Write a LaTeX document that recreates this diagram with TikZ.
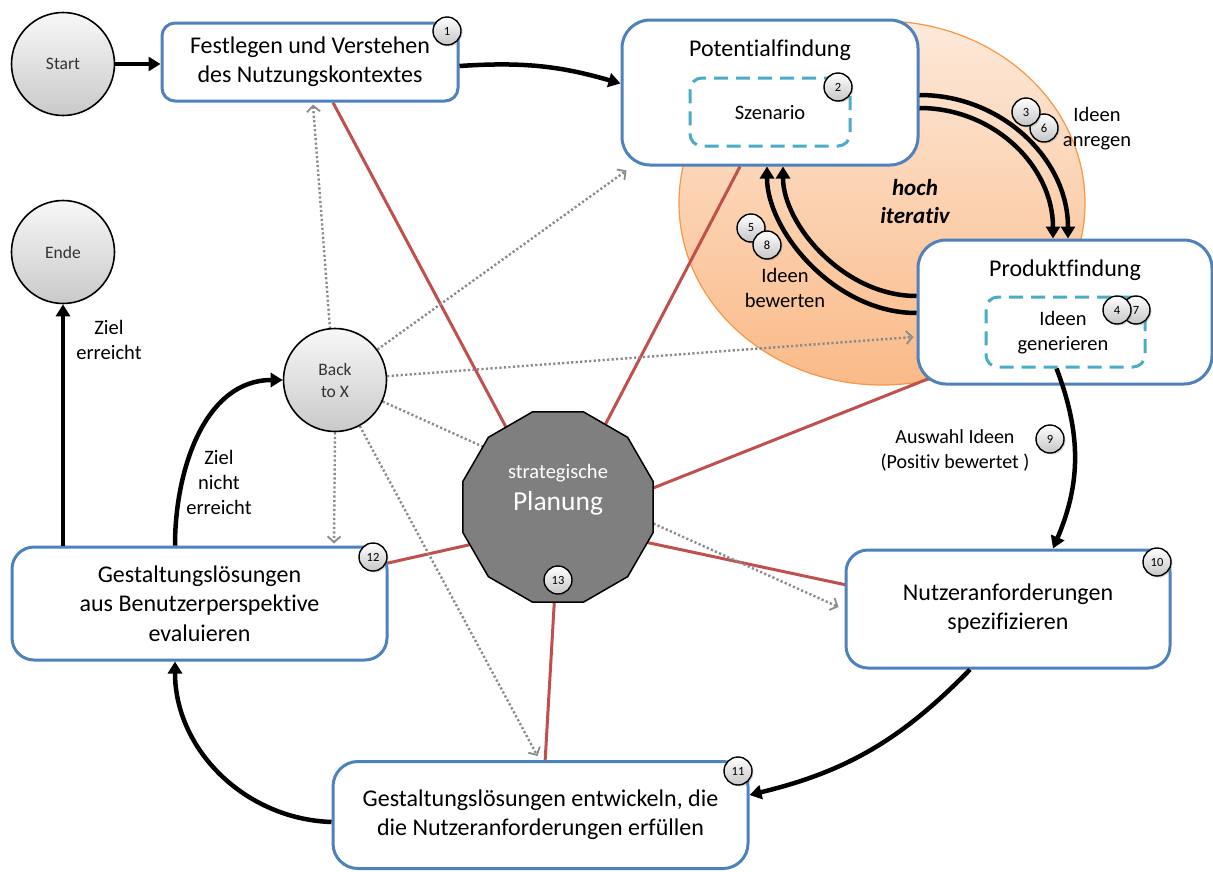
\documentclass[tikz,border=0pt]{standalone}
\usepackage{fontspec}
\setmainfont{Carlito}[Ligatures=NoCommon]
\usetikzlibrary{arrows.meta,calc,shapes.geometric,shadows}

\newcommand{\setfs}[2]{\fontsize{#1}{#2}\selectfont}

\definecolor{boxblue}{RGB}{79,129,189}
\definecolor{linkred}{RGB}{192,80,77}
\definecolor{dashcyan}{RGB}{75,172,198}
\definecolor{iterorange}{RGB}{247,150,70}
\definecolor{peachtop}{RGB}{253,233,217}
\definecolor{peachbot}{RGB}{250,186,136}
\definecolor{dotgray}{RGB}{140,140,140}
\definecolor{plangray}{RGB}{127,127,127}

\pgfdeclarelayer{back}
\pgfdeclarelayer{links}
\pgfsetlayers{back,links,main}

\tikzset{
  procbox/.style={draw=boxblue, line width=3pt, fill=white, rounded corners=#1,
    inner sep=0pt, align=center, font=\setfs{24}{29}},
  dashbox/.style={draw=dashcyan, line width=3pt, dash pattern=on 14pt off 8pt,
    rounded corners=12pt, inner sep=0pt},
  termcircle/.style={circle, draw=black, line width=1.6pt, top color=gray!6,
    bottom color=gray!42, minimum size=103pt, inner sep=0pt, align=center,
    font=\setfs{17.5}{22}, text=black!80},
  numbadge/.style={circle, draw=black, line width=1.4pt, top color=white,
    bottom color=gray!45, minimum size=28pt, inner sep=0pt, font=\setfs{12.5}{14},
    drop shadow={shadow xshift=1.5pt, shadow yshift=-1.5pt, opacity=0.3}},
  flowarrow/.style={line width=4.5pt, -{Triangle[length=12pt,width=14pt]}},
  redlink/.style={draw=linkred, line width=3pt},
  dotlink/.style={draw=dotgray, line width=2.4pt, dash pattern=on 2.2pt off 2.3pt,
    -{Straight Barb[length=6pt,width=13pt,line width=1.8pt]}},
  note/.style={font=\setfs{20.5}{25}, align=center},
}

\begin{document}
\begin{tikzpicture}[x=1pt,y=-1pt]
\useasboundingbox (0,0) rectangle (1213,871);

% background and the iteration ellipse
\begin{pgfonlayer}{back}
  \fill[white] (0,0) rectangle (1213,871);
  \node[ellipse, minimum width=406pt, minimum height=364pt, inner sep=0pt,
    top color=peachtop, bottom color=peachbot, draw=iterorange, line width=1.2pt]
    (loop) at (882,203) {};
\end{pgfonlayer}

% process boxes
\node[termcircle] (start) at (63,64) {Start};
\node[procbox=13pt, minimum width=296pt, minimum height=78pt] (ctx) at (310,62)
  {Festlegen und Verstehen\\des Nutzungskontextes};

\node[procbox=28pt, minimum width=296pt, minimum height=145pt] (pot) at (770,92.5) {};
\node[font=\setfs{24}{29}] (pottitle) at (770,50) {Potentialfindung};
\node[dashbox, minimum width=160pt, minimum height=68pt] (szen) at (770,112) {};
\node[font=\setfs{20.5}{25}] (szentext) at (770,113) {Szenario};

\node[procbox=28pt, minimum width=294pt, minimum height=144pt] (prod) at (1065,312) {};
\node[font=\setfs{24}{29}] (prodtitle) at (1065,270) {Produktfindung};
\node[dashbox, minimum width=159pt, minimum height=70pt] (gen) at (1065.5,332) {};
\node[note] (gentext) at (1063,333) {Ideen\\generieren};

\node[termcircle] (ende) at (63,252) {Ende};
\node[termcircle] (back) at (335,380) {Back\\to X};

\node[regular polygon, regular polygon sides=12, minimum size=197pt, inner sep=0pt,
  fill=plangray, draw=black, line width=1.5pt] (plan) at (558,507) {};
\node[text=white, font=\setfs{20.5}{24}] (plantop) at (558,473) {strategische};
\node[text=white, font=\setfs{27.5}{30}] (planmain) at (558,503) {Planung};

\node[procbox=22pt, minimum width=375pt, minimum height=113pt, font=\setfs{24}{29.5}]
  (evalbox) at (199.5,603.5) {Gestaltungslösungen\\aus Benutzerperspektive\\evaluieren};
\node[procbox=22pt, minimum width=324pt, minimum height=118pt] (req) at (1008,609)
  {Nutzeranforderungen\\spezifizieren};
\node[procbox=25pt, minimum width=415pt, minimum height=107pt] (dev) at (540.5,815)
  {Gestaltungslösungen entwickeln, die\\die Nutzeranforderungen erfüllen};

% ties to the strategic planning and jumps back
\begin{pgfonlayer}{links}
  \draw[redlink] ($(plan.center)+(-43,-63)$) -- ($(ctx.south)+(23,0)$);
  \draw[redlink] ($(plan.center)+(36.6,-62)$) -- ($(pot.south)+(-30,0)$);
  \draw[redlink] ($(plan.center)+(75,-11)$) -- ($(prod.south west)+(15,-8)$);
  \draw[redlink] ($(plan.center)+(72,31.8)$) -- ($(req.west)+(10,-22.3)$);
  \draw[redlink] ($(plan.center)+(-3,83)$) -- ($(dev.north)+(4.5,3)$);
  \draw[redlink] ($(plan.center)+(-70,33.6)$) -- ($(evalbox.east)+(-5,-39.5)$);

  \draw[dotlink] ($(back.north)+(-5,1)$) -- ($(ctx.south)+(3,2)$);
  \draw[dotlink] (back) -- ($(pot.south west)+(6,4)$);
  \draw[dotlink] (back) -- ($(prod.west)+(-3,25)$);
  \draw[dotlink] (back) -- ($(req.west)+(-6,-2)$);
  \draw[dotlink] (back.south) -- ($(evalbox.north)+(134.5,-2)$);
  \draw[dotlink] (back) -- ($(dev.north)+(-3,-4)$);
\end{pgfonlayer}

% main flow
\draw[flowarrow] (start.east) -- (start.east -| ctx.west);
\draw[flowarrow] ($(ctx.east)+(0,4)$) to[bend left=10] ($(pot.west)+(0,-9)$);
\draw[flowarrow] ($(gen.south)+(-9,0)$) to[bend left=22] ($(req.north)+(45,0)$);
\draw[flowarrow] ($(req.south)+(-38,0)$) to[bend left=16] ($(dev.east)+(0,-20)$);
\draw[flowarrow] ($(dev.west)+(0,7)$) to[out=178, in=-90] ($(evalbox.south)+(-24.5,0)$);
\draw[flowarrow] ($(evalbox.north)+(-136.5,0)$) -- (ende.south);
\draw[flowarrow] ($(evalbox.north)+(-24.5,0)$) to[out=90, in=180] (back.west);

% iteration between Potentialfindung and Produktfindung
\draw[flowarrow] ($(pot.east)+(0,2.5)$) .. controls (1001.7,95) and (1068,159) .. ($(prod.north)+(3,0)$);
\draw[flowarrow] ($(pot.east)+(0,15.5)$) .. controls (993.5,108) and (1053,166) .. ($(prod.north)+(-12,0)$);
\draw[flowarrow] ($(prod.west)+(0,1)$) .. controls (834.6,313) and (767,231) .. ($(pot.south)+(-3,0)$);
\draw[flowarrow] ($(prod.west)+(0,-16)$) .. controls (843.4,296) and (783,224) .. ($(pot.south)+(13,0)$);

% labels
\node[note] (anr) at (1097,129) {Ideen\\anregen};
\node[note] (bew) at (785,288) {Ideen\\bewerten};
\node[note, font=\setfs{23}{28}\bfseries\itshape] (hoch) at (915,202) {hoch\\iterativ};
\node[note] (zielok) at (109,340) {Ziel\\erreicht};
\node[note] (zielno) at (219,482) {Ziel\\nicht\\erreicht};
\node[note, font=\setfs{20}{25}] (ausw) at (955,450) {Auswahl Ideen\\(Positiv bewertet )};

% step numbers
\node[numbadge] (b1) at (447,31) {1};
\node[numbadge] (b2) at (838,87) {2};
\node[numbadge] (b6) at (1044,128) {6};
\node[numbadge] (b3) at (1026,112) {3};
\node[numbadge] (b5) at (751,228) {5};
\node[numbadge] (b8) at (767,245) {8};
\node[numbadge] (b7) at (1136,310) {7};
\node[numbadge] (b4) at (1117,310) {4};
\node[numbadge] (b9) at (1050,439) {9};
\node[numbadge] (b10) at (1157,562) {10};
\node[numbadge] (b11) at (738,771) {11};
\node[numbadge] (b12) at (373,557) {12};
\node[numbadge] (b13) at (558,580) {13};
\end{tikzpicture}
\end{document}
